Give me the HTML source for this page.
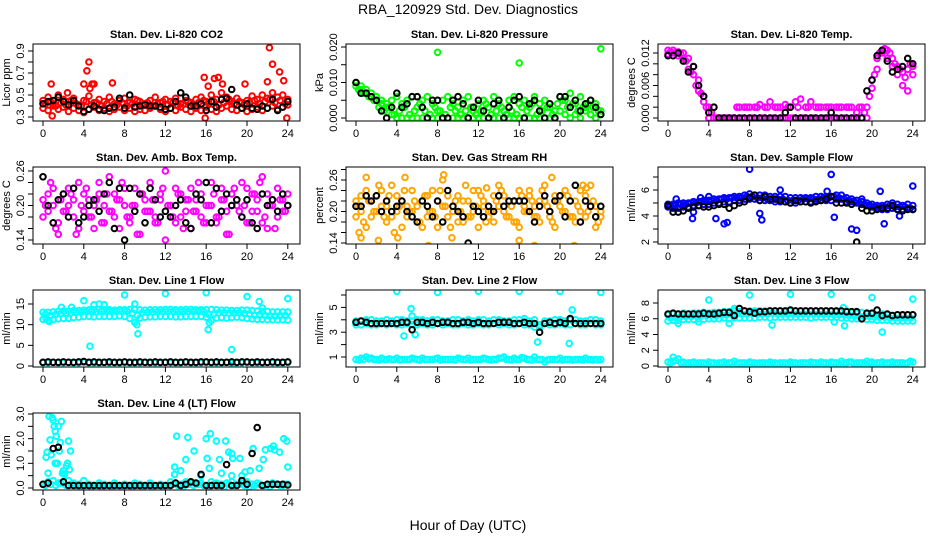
<!DOCTYPE html>
<html><head><meta charset="utf-8">
<style>
html,body{margin:0;padding:0;background:#fff;}
svg{display:block;font-family:"Liberation Sans",Arial,sans-serif;}
</style></head>
<body>
<svg id="chart" width="936" height="540" viewBox="0 0 936 540" xmlns="http://www.w3.org/2000/svg">
<text x="468" y="14" text-anchor="middle" font-size="14">RBA_120929  Std. Dev. Diagnostics</text>
<text x="468" y="530" text-anchor="middle" font-size="14">Hour of Day (UTC)</text>
</svg>
<script>
// shared times (hours)
const T=[0,0.5,1,1.5,2,2.5,3,3.5,4,4.5,5,5.5,6,6.5,7,7.5,8,8.5,9,9.5,10,10.5,11,11.5,12,12.5,13,13.5,14,14.5,15,15.5,16,16.5,17,17.5,18,18.5,19,19.5,20,20.5,21,21.5,22,22.5,23,23.5,24];
const TQ=[0.25,0.75,1.25,1.75,2.25,2.75,3.25,3.75,4.25,4.75,5.25,5.75,6.25,6.75,7.25,7.75,8.25,8.75,9.25,9.75,10.25,10.75,11.25,11.75,12.25,12.75,13.25,13.75,14.25,14.75,15.25,15.75,16.25,16.75,17.25,17.75,18.25,18.75,19.25,19.75,20.25,20.75,21.25,21.75,22.25,22.75,23.25,23.75];
const xTicks=[0,4,8,12,16,20,24];
const xTickLabels=["0","4","8","12","16","20","24"];

// CO2
const co2A=[0.45,0.48,0.42,0.50,0.46,0.44,0.47,0.41,0.45,0.49,0.43,0.46,0.44,0.48,0.42,0.45,0.47,0.43,0.46,0.44,0.42,0.45,0.48,0.43,0.46,0.44,0.47,0.42,0.45,0.43,0.46,0.48,0.44,0.50,0.46,0.52,0.48,0.44,0.47,0.43,0.45,0.49,0.46,0.50,0.47,0.52,0.48,0.50,0.46];
const co2B=[0.38,0.36,0.40,0.37,0.39,0.35,0.38,0.36,0.34,0.37,0.39,0.36,0.38,0.35,0.37,0.39,0.36,0.38,0.35,0.37,0.36,0.38,0.40,0.37,0.35,0.38,0.36,0.39,0.37,0.35,0.38,0.36,0.39,0.37,0.35,0.38,0.40,0.37,0.36,0.38,0.35,0.37,0.39,0.36,0.38,0.40,0.37,0.39,0.41];
const co2C=[0.42,0.44,0.40,0.43,0.41,0.45,0.42,0.40,0.44,0.41,0.43,0.40,0.42,0.44,0.41,0.43,0.40,0.42,0.45,0.41,0.43,0.40,0.42,0.44,0.41,0.43,0.40,0.42,0.44,0.41,0.43,0.45,0.42,0.44,0.41,0.43,0.46,0.42,0.44,0.41,0.43,0.45,0.42,0.44,0.46,0.43,0.45,0.42];
const co2OutT=[0.8,0.9,4,4.3,4.5,4.8,5,6.8,15.8,15.9,16.2,16.8,17.2,17.6,19.8,22,22.2,22.5,23.2,23.6,23.9,2.4,4.6];
const co2OutV=[0.60,0.31,0.60,0.72,0.80,0.60,0.60,0.61,0.66,0.29,0.58,0.65,0.66,0.60,0.60,0.62,0.93,0.78,0.71,0.63,0.29,0.52,0.56];
const co2K=[0.42,0.44,0.45,0.48,0.44,0.41,0.45,0.40,0.35,0.37,0.40,0.37,0.36,0.38,0.39,0.47,0.38,0.50,0.39,0.40,0.41,0.40,0.40,0.39,0.37,0.38,0.44,0.52,0.48,0.40,0.40,0.42,0.36,0.44,0.39,0.46,0.47,0.55,0.41,0.38,0.42,0.38,0.37,0.40,0.38,0.46,0.36,0.39,0.44];

// Pressure
const prA=[0.010,0.009,0.008,0.007,0.006,0.004,0.003,0.001,0.000,0.000,0.000,0.000,0.000,0.000,0.000,0.000,0.000,0.000,0.000,0.000,0.000,0.000,0.000,0.000,0.000,0.000,0.000,0.000,0.000,0.000,0.000,0.000,0.000,0.000,0.000,0.000,0.000,0.000,0.000,0.000,0.002,0.001,0.000,0.001,0.000,0.002,0.001,0.000,0.001];
const prB=[0.009,0.008,0.007,0.006,0.005,0.005,0.004,0.005,0.006,0.004,0.005,0.006,0.003,0.005,0.006,0.004,0.002,0.005,0.006,0.004,0.003,0.005,0.006,0.002,0.004,0.005,0.003,0.006,0.004,0.002,0.005,0.006,0.004,0.005,0.003,0.006,0.004,0.005,0.003,0.002,0.006,0.005,0.007,0.004,0.006,0.003,0.005,0.004,0.002];
const prC=[0.008,0.007,0.006,0.005,0.003,0.002,0.003,0.001,0.002,0.003,0.001,0.002,0.004,0.002,0.001,0.003,0.002,0.001,0.003,0.002,0.001,0.002,0.003,0.001,0.002,0.004,0.001,0.002,0.003,0.001,0.002,0.001,0.003,0.002,0.004,0.001,0.002,0.003,0.001,0.004,0.005,0.003,0.004,0.002,0.003,0.004,0.003,0.002];
const prOutT=[8,16,24];
const prOutV=[0.0185,0.0155,0.0195];
const prK=[0.010,0.007,0.007,0.006,0.005,0.002,0.000,0.003,0.007,0.003,0.004,0.006,0.006,0.003,0.000,0.005,0.005,0.000,0.000,0.005,0.006,0.004,0.000,0.003,0.005,0.002,0.000,0.004,0.005,0.000,0.003,0.005,0.006,0.000,0.004,0.005,0.002,0.000,0.004,0.000,0.006,0.006,0.003,0.005,0.002,0.004,0.005,0.003,0.001];

// Li-820 Temp
const tmA=[0.0125,0.0125,0.0122,0.012,0.011,0.0095,0.007,0.004,0.000,0,0,0,0,0,0,0,0,0,0,0,0,0,0,0,0,0,0,0,0,0,0,0,0,0,0,0,0,0,0,0,0.007,0.011,0.0125,0.0125,0.011,0.0095,0.0085,0.009,0.0095];
const tmB=[0.0118,0.012,0.0115,0.011,0.009,0.008,0.005,0.003,0.002,0.002,0.000,0.000,0.000,0.000,0.002,0.002,0.002,0.002,0.0025,0.002,0.003,0.002,0.002,0.0025,0.002,0.003,0.0035,0.002,0.003,0.002,0.002,0.002,0.002,0.002,0.002,0.002,0.002,0.001,0.002,0.002,0.0055,0.009,0.012,0.011,0.0095,0.008,0.006,0.005,0.008];
const tmC=[0.0122,0.012,0.0118,0.0105,0.0085,0.006,0.0045,0.002,0.001,0.000,0.000,0.000,0.000,0.002,0.000,0.002,0.000,0.002,0.000,0.002,0.000,0.002,0.000,0.002,0.000,0.002,0.000,0.002,0.000,0.002,0.000,0.002,0.000,0.002,0.000,0.002,0.000,0.002,0.001,0.004,0.008,0.012,0.0128,0.012,0.010,0.009,0.0075,0.010];
const tmK=[0.0115,0.0115,0.012,0.0105,0.0085,0.0095,0.006,0.004,0.001,0.002,0,0,0,0,0,0,0,0,0,0,0,0,0,0.001,0.002,0,0,0,0,0,0,0,0.001,0,0,0,0,0,0,0.005,0.007,0.0115,0.0125,0.0105,0.0085,0.009,0.0095,0.011,0.010];

// Amb box temp
const abA=[0.21,0.19,0.23,0.17,0.22,0.20,0.18,0.24,0.19,0.21,0.16,0.22,0.20,0.25,0.18,0.21,0.23,0.17,0.20,0.22,0.19,0.24,0.18,0.21,0.26,0.20,0.17,0.22,0.19,0.23,0.21,0.18,0.20,0.24,0.17,0.21,0.19,0.22,0.20,0.18,0.23,0.19,0.21,0.17,0.22,0.20,0.18,0.21,0.20];
const abB=[0.18,0.22,0.20,0.15,0.19,0.23,0.21,0.16,0.22,0.18,0.20,0.24,0.17,0.19,0.22,0.16,0.20,0.18,0.23,0.15,0.21,0.19,0.17,0.22,0.14,0.20,0.23,0.18,0.21,0.16,0.19,0.22,0.17,0.20,0.18,0.23,0.15,0.20,0.21,0.24,0.17,0.22,0.19,0.25,0.16,0.21,0.23,0.19,0.22];
const abC=[0.20,0.24,0.16,0.21,0.19,0.22,0.15,0.20,0.23,0.18,0.21,0.17,0.22,0.19,0.21,0.24,0.18,0.20,0.15,0.22,0.19,0.21,0.17,0.23,0.20,0.18,0.22,0.16,0.21,0.19,0.24,0.17,0.20,0.22,0.18,0.21,0.15,0.23,0.19,0.20,0.17,0.22,0.24,0.18,0.20,0.16,0.21,0.19];
const abK=[0.25,0.20,0.17,0.21,0.22,0.18,0.23,0.17,0.18,0.20,0.21,0.19,0.22,0.24,0.16,0.23,0.14,0.23,0.19,0.22,0.17,0.23,0.21,0.18,0.19,0.18,0.20,0.21,0.17,0.16,0.22,0.21,0.24,0.17,0.23,0.19,0.22,0.20,0.21,0.18,0.21,0.17,0.16,0.22,0.20,0.21,0.19,0.22,0.20];

// Gas stream RH
const rhA=[0.22,0.20,0.24,0.19,0.23,0.21,0.18,0.25,0.20,0.22,0.19,0.24,0.21,0.17,0.23,0.20,0.22,0.26,0.19,0.21,0.23,0.18,0.22,0.20,0.24,0.21,0.19,0.23,0.25,0.20,0.22,0.18,0.24,0.21,0.23,0.19,0.22,0.25,0.20,0.23,0.21,0.24,0.19,0.22,0.20,0.23,0.25,0.21,0.19];
const rhB=[0.19,0.23,0.17,0.22,0.20,0.24,0.21,0.19,0.23,0.17,0.21,0.20,0.18,0.22,0.19,0.24,0.17,0.21,0.23,0.20,0.18,0.22,0.19,0.24,0.17,0.22,0.20,0.18,0.21,0.23,0.19,0.22,0.17,0.20,0.24,0.21,0.18,0.22,0.19,0.17,0.23,0.20,0.22,0.18,0.24,0.19,0.21,0.17,0.20];
const rhC=[0.21,0.18,0.22,0.20,0.25,0.19,0.23,0.16,0.21,0.24,0.20,0.22,0.18,0.23,0.20,0.19,0.24,0.21,0.17,0.22,0.20,0.25,0.19,0.21,0.23,0.18,0.20,0.22,0.24,0.19,0.21,0.18,0.23,0.20,0.22,0.19,0.24,0.21,0.18,0.22,0.20,0.23,0.19,0.21,0.25,0.20,0.22,0.18];
const rhOutT=[0.3,0.5,1,2.2,4.1,7.1,9.4,8.6,16,17.5,21.4,22.6,4.8,12.8,19.2];
const rhOutV=[0.16,0.15,0.265,0.145,0.15,0.135,0.15,0.27,0.145,0.135,0.135,0.245,0.265,0.245,0.265];
const rhK=[0.21,0.21,0.23,0.22,0.23,0.20,0.22,0.20,0.21,0.22,0.20,0.19,0.18,0.22,0.21,0.19,0.22,0.18,0.24,0.21,0.20,0.19,0.14,0.21,0.20,0.19,0.21,0.20,0.23,0.21,0.22,0.22,0.22,0.22,0.20,0.18,0.21,0.23,0.20,0.22,0.23,0.19,0.22,0.25,0.18,0.22,0.21,0.19,0.21];

// Sample flow
const sfA=[4.9,4.9,5.0,5.0,5.0,5.1,5.1,5.2,5.2,5.3,5.3,5.4,5.4,5.5,5.5,5.6,5.7,5.6,5.6,5.6,5.5,5.5,5.5,5.5,5.4,5.4,5.4,5.4,5.4,5.5,5.5,5.5,5.5,5.6,5.6,5.4,5.3,5.2,5.1,5.0,4.9,4.8,4.8,4.9,5.0,4.9,4.8,4.9,4.8];
const sfB=[4.7,4.6,4.6,4.7,4.7,4.8,4.8,4.9,4.9,5.0,5.0,5.1,5.1,5.2,5.2,5.3,5.3,5.3,5.2,5.2,5.2,5.1,5.1,5.1,5.0,5.0,5.1,5.1,5.1,5.2,5.2,5.2,5.2,5.3,5.3,5.1,5.1,5.0,4.9,4.8,4.7,4.6,4.5,4.5,4.6,4.5,4.5,4.6,4.5];
const sfC=[4.8,4.8,4.9,4.9,5.0,5.0,5.1,5.1,5.2,5.2,5.3,5.3,5.4,5.4,5.4,5.5,5.5,5.4,5.4,5.3,5.3,5.3,5.3,5.2,5.2,5.2,5.3,5.3,5.3,5.3,5.4,5.4,5.5,5.4,5.3,5.2,5.1,5.0,4.9,4.8,4.7,4.7,4.7,4.8,4.7,4.7,4.7,4.6];
const sfOutT=[2.4,2.5,4.7,5.5,5.8,8,9,9.2,11,16,16.3,18,18.5,20.8,21.2,22.7,24,4,15.6,19,0.8,3.2];
const sfOutV=[3.8,4.3,3.8,3.4,3.5,7.6,4.2,3.7,6.0,7.2,3.9,3.0,2.9,5.9,3.4,4.0,6.3,5.5,5.9,5.3,5.3,5.4];
const sfK=[4.8,4.3,4.3,4.4,4.6,4.7,4.8,4.7,4.7,4.8,4.9,4.9,4.6,4.8,5.0,5.1,5.4,5.6,5.2,5.5,5.3,5.3,5.2,5.1,5.0,5.2,5.1,5.1,5.0,5.1,5.2,5.3,5.5,5.0,5.0,5.0,4.9,2.0,4.6,4.4,4.4,4.5,4.6,4.6,4.8,4.5,4.4,4.5,4.5];

// Line 1
const l1A=[13.0,13.0,13.1,13.2,13.3,13.3,13.4,13.4,13.5,13.6,13.6,13.7,13.6,13.6,13.5,13.6,13.6,13.7,13.7,13.6,13.5,13.6,13.6,13.6,13.7,13.7,13.6,13.6,13.7,13.7,13.6,13.6,13.6,13.7,13.6,13.5,13.5,13.4,13.4,13.5,13.5,13.4,13.3,13.2,13.2,13.1,13.1,13.1,13.1];
const l1B=[11.3,11.0,11.2,11.4,11.5,11.5,11.7,11.8,12.0,12.0,11.9,12.0,12.0,12.0,12.0,12.1,12.0,11.5,10.5,11.6,11.8,11.9,11.9,12.0,12.0,12.0,11.9,11.9,12.0,12.0,12.0,12.0,11.8,11.0,11.6,11.7,11.6,11.7,11.8,11.7,11.5,11.4,11.3,11.3,11.2,11.2,11.2,11.2,11.1];
const l1C=[12.5,12.2,12.5,12.7,12.8,12.9,13.0,13.1,13.2,13.2,13.1,13.3,13.3,13.2,13.3,13.2,13.3,12.8,12.2,12.9,13.0,13.1,13.2,13.2,13.3,13.2,13.2,13.3,13.2,13.3,13.3,13.2,12.5,12.6,12.9,12.9,12.8,12.8,12.9,12.7,12.6,12.3,12.4,12.2,12.1,12.1,12.2,12.2];
const l1Low=[0.8,0.8,0.9,0.8,0.8,0.9,0.8,0.8,0.9,0.8,0.8,0.8,0.9,0.8,0.8,0.8,0.9,0.8,0.8,0.8,0.9,0.8,0.8,0.8,0.9,0.8,0.8,0.8,0.9,0.8,0.8,0.8,0.9,0.8,0.8,0.8,0.9,0.8,0.8,0.8,0.9,0.8,0.8,0.8,0.9,0.8,0.8,0.8,0.9];
const l1OutT=[1.8,2.8,4,4.6,5,5.5,6,8,9,9.3,9.2,12,16,16.2,16.3,18.5,18.6,20,21.2,21.5,24,0.3,0.6];
const l1OutV=[14.2,14.2,15.8,4.8,14.8,15,14.8,17.2,15,7.8,10,17.5,17.7,8.8,10.5,4.0,0.2,16.8,15.6,14,16.3,11.5,10.8];
const l1K=[0.9,1.0,0.9,0.9,1.0,0.9,0.9,1.0,1.1,0.9,1.0,0.9,0.9,1.0,0.9,0.9,1.0,0.9,0.9,1.0,0.9,0.9,1.0,0.9,0.9,1.0,0.9,0.9,1.0,0.9,0.9,1.0,1.0,0.9,1.0,0.9,0.9,1.0,0.9,1.0,1.0,0.9,1.0,0.9,0.9,1.0,0.9,0.9,1.0];

// Line 2
const l2A=[3.9,3.9,4.0,4.0,3.9,3.9,4.0,3.9,4.0,4.0,3.9,3.9,4.0,4.0,3.9,4.0,4.0,3.9,3.9,4.0,4.0,3.9,4.0,3.9,4.0,4.0,3.9,4.0,4.0,3.9,3.9,4.0,4.0,4.1,3.9,4.0,3.6,3.9,3.9,4.0,4.0,3.9,4.0,4.0,3.9,3.9,4.0,4.0,3.9];
const l2B=[3.6,3.6,3.7,3.6,3.6,3.7,3.6,3.7,3.6,3.6,3.7,3.6,3.6,3.7,3.6,3.6,3.7,3.6,3.7,3.6,3.6,3.7,3.6,3.6,3.7,3.6,3.6,3.7,3.6,3.7,3.6,3.6,3.7,3.6,3.6,3.4,3.6,3.7,3.6,3.6,3.7,3.6,3.6,3.7,3.6,3.6,3.7,3.6,3.6];
const l2Low=[0.8,0.9,1.0,0.9,0.8,0.9,0.8,0.8,0.9,0.8,0.8,0.9,0.8,0.9,0.8,0.8,0.9,0.8,0.8,0.8,0.9,0.8,0.9,0.8,0.8,0.9,0.8,0.8,0.9,1.0,0.8,0.9,0.8,0.9,0.8,1.0,0.8,0.6,0.8,0.8,0.9,0.8,0.8,0.8,0.8,0.9,0.8,0.8,0.8];
const l2Low2=[0.75,0.8,0.85,0.8,0.75,0.8,0.85,0.8,0.75,0.8,0.8,0.85,0.75,0.8,0.8,0.85,0.75,0.8,0.8,0.75,0.85,0.8,0.75,0.8,0.8,0.85,0.75,0.8,0.9,0.8,0.75,0.8,0.95,0.8,0.75,0.8,0.8,0.75,0.8,0.8,0.75,0.8,0.75,0.8,0.75,0.8,0.75,0.75];
const l2OutT=[4,8,12,16,20,24,4.7,5.4,5.8,17.8,18,20.9,21.2,5.5];
const l2OutV=[6.3,6.2,6.3,6.3,6.3,6.2,2.7,4.9,2.8,2.2,3.4,2.1,4.8,4.3];
const l2K=[3.8,3.9,3.8,3.7,3.7,3.7,3.7,3.7,3.7,3.8,3.8,3.2,3.8,3.8,3.7,3.8,3.7,3.8,3.8,3.7,3.7,3.8,3.8,3.7,3.8,3.7,3.7,3.7,3.8,3.8,3.8,3.7,3.7,3.8,3.7,3.7,3.0,3.7,3.8,3.7,3.8,3.7,4.1,3.7,3.7,3.7,3.7,3.7,3.7];

// Line 3
const l3A=[6.5,6.6,6.6,6.7,6.6,6.7,6.7,6.8,6.7,6.8,6.8,6.9,6.9,7.0,6.9,7.0,7.0,7.0,7.0,7.0,7.0,7.0,7.0,6.9,7.0,7.0,7.0,7.0,7.0,7.0,7.0,7.0,7.0,6.9,6.9,7.0,6.8,6.7,6.8,6.6,6.6,6.5,6.6,6.5,6.4,6.5,6.4,6.5,6.5];
const l3B=[5.7,5.8,5.8,5.9,5.9,5.9,6.0,5.9,6.0,6.0,6.0,6.1,6.0,6.1,6.1,6.1,6.1,6.1,6.2,6.2,6.1,6.2,6.2,6.2,6.2,6.2,6.2,6.2,6.1,6.2,6.2,6.2,6.2,6.2,6.1,6.1,6.0,6.0,6.0,5.9,5.9,5.8,5.8,5.8,5.7,5.7,5.7,5.7,5.7];
const l3C=[6.1,6.2,6.3,6.3,6.3,6.4,6.4,6.4,6.5,6.4,6.5,6.5,6.6,6.6,6.6,6.6,6.7,6.6,6.6,6.6,6.7,6.6,6.6,6.6,6.6,6.6,6.6,6.6,6.6,6.6,6.6,6.6,6.5,6.5,6.5,6.4,6.4,6.3,6.3,6.3,6.2,6.2,6.2,6.1,6.1,6.1,6.1,6.1];
const l3Low=[0.5,0.6,0.9,0.5,0.4,0.5,0.4,0.4,0.5,0.4,0.4,0.5,0.4,0.6,0.4,0.4,0.5,0.4,0.4,0.4,0.5,0.4,0.4,0.4,0.5,0.4,0.4,0.4,0.5,0.4,0.5,0.4,0.5,0.4,0.6,0.4,0.5,0.4,0.4,0.6,0.5,0.4,0.5,0.4,0.5,0.4,0.4,0.4,0.5];
const l3Low2=[0.4,0.7,0.4,0.3,0.4,0.3,0.4,0.3,0.4,0.3,0.4,0.3,0.4,0.3,0.4,0.3,0.4,0.3,0.4,0.3,0.4,0.3,0.4,0.3,0.4,0.3,0.4,0.3,0.4,0.3,0.4,0.3,0.4,0.3,0.4,0.5,0.3,0.4,0.3,0.4,0.3,0.4,0.3,0.4,0.3,0.4,0.3,0.6];
const l3OutT=[4,8,12,16,20,24,1,3,6,6.5,10.2,16.3,17.2,17.3,21,0.5];
const l3OutV=[8.4,9.0,9.1,9.1,8.7,8.5,5.4,5.6,5.4,7.3,5.2,5.6,7.4,5.1,4.3,1.1];
const l3K=[6.6,6.7,6.6,6.6,6.6,6.6,6.6,6.7,6.6,6.6,6.7,6.8,6.8,6.4,7.3,7.0,6.9,6.7,6.9,6.9,7.0,7.0,7.0,7.0,7.1,7.0,7.0,7.0,7.0,7.0,7.0,7.0,7.0,7.0,7.0,6.9,6.9,6.9,6.0,6.7,6.7,7.1,6.4,6.6,6.4,6.5,6.5,6.5,6.5];

// Line 4
const l4A=[0.15,0.25,0.30,0.20,0.25,0.30,0.20,0.15,0.30,0.15,0.10,0.20,0.15,0.10,0.20,0.10,0.15,0.10,0.20,0.15,0.10,0.20,0.10,0.15,0.10,0.25,0.20,0.15,0.25,0.20,0.15,0.20,0.10,0.25,0.20,0.15,0.20,0.25,0.15,0.20,0.25,0.15,0.20,0.10,0.15,0.20,0.15,0.10,0.15];
const l4B=[0.10,0.15,0.10,0.20,0.10,0.15,0.10,0.05,0.10,0.05,0.10,0.05,0.10,0.05,0.10,0.05,0.10,0.05,0.10,0.05,0.10,0.05,0.10,0.05,0.10,0.15,0.10,0.05,0.15,0.10,0.15,0.10,0.05,0.15,0.10,0.05,0.15,0.10,0.15,0.10,0.05,0.10,0.15,0.10,0.05,0.15,0.10,0.15];
const l4OutT=[0.3,0.4,0.5,0.6,0.8,0.9,1.0,1.1,1.2,1.3,1.4,1.5,1.6,1.7,1.8,1.9,2.0,2.3,2.4,2.5,2.7,2.6,2.1,0.7,1.2,12.9,12.9,13.1,13.5,14,14.2,14.8,15.5,16,16.1,16.4,16.3,17,17.3,17.5,17.9,18.2,18.5,18.6,18.5,19.3,19.5,19.8,20.3,20.6,21.2,21.6,21.8,22.3,22.7,22.6,23.2,23.6,23.9,24];
const l4OutV=[1.25,1.45,0.6,2.9,1.35,2.85,2.75,2.5,2.3,2.1,1.0,2.5,1.5,1.85,2.7,0.6,0.7,0.9,1.0,1.9,1.5,0.75,0.55,1.95,1.0,0.85,0.55,2.1,0.7,1.15,2.05,1.5,0.5,2.0,1.2,2.2,0.8,1.9,1.15,0.6,1.9,1.45,1.4,1.2,0.5,1.2,0.5,0.65,0.7,1.6,0.8,1.15,1.55,1.6,1.55,1.7,1.45,2.0,1.9,0.85];
const l4K=[0.15,0.2,1.6,1.65,0.25,0.1,0.1,0.1,0.1,0.1,0.1,0.1,0.1,0.1,0.1,0.1,0.1,0.1,0.1,0.1,0.1,0.1,0.1,0.1,0.1,0.1,0.2,0.1,0.15,0.25,0.2,0.55,0.1,0.1,0.1,0.1,0.95,0.1,0.1,0.3,0.15,1.4,2.45,0.1,0.15,0.15,0.15,0.15,0.12];

const RED="#ff0000",GRN="#00ff00",MAG="#ff00ff",BLU="#0000ff",CYN="#00ffff",ORG="#ffa500",BLK="#000000";
const panels=[
 {id:"co2",title:"Stan. Dev. Li-820 CO2",ylab:"Licor ppm",c:0,r:0,v0:0.3,p0:117,v1:0.9,p1:51,ticks:[0.3,0.4,0.5,0.6,0.7,0.8,0.9],labs:[[0.3,"0.3"],[0.5,"0.5"],[0.7,"0.7"],[0.9,"0.9"]],
  series:[[T,co2A,RED],[T,co2B,RED],[TQ,co2C,RED],[co2OutT,co2OutV,RED],[T,co2K,BLK]]},
 {id:"pressure",title:"Stan. Dev. Li-820 Pressure",ylab:"kPa",c:1,r:0,v0:0,p0:118,v1:0.02,p1:47,ticks:[0,0.005,0.01,0.015,0.02],labs:[[0,"0.000"],[0.01,"0.010"],[0.02,"0.020"]],
  series:[[T,prA,GRN],[T,prB,GRN],[TQ,prC,GRN],[prOutT,prOutV,GRN],[T,prK,BLK]]},
 {id:"temp",title:"Stan. Dev. Li-820 Temp.",ylab:"degrees C",c:2,r:0,v0:0,p0:118,v1:0.012,p1:53,ticks:[0,0.002,0.004,0.006,0.008,0.01,0.012],labs:[[0,"0.000"],[0.006,"0.006"],[0.012,"0.012"]],
  series:[[T,tmA,MAG],[T,tmB,MAG],[TQ,tmC,MAG],[T,tmK,BLK]]},
 {id:"ambtemp",title:"Stan. Dev. Amb. Box Temp.",ylab:"degrees C",c:0,r:1,v0:0.14,p0:240,v1:0.26,p1:171,ticks:[0.14,0.16,0.18,0.2,0.22,0.24,0.26],labs:[[0.14,"0.14"],[0.2,"0.20"],[0.26,"0.26"]],
  series:[[T,abA,MAG],[T,abB,MAG],[TQ,abC,MAG],[T,abK,BLK]]},
 {id:"gasrh",title:"Stan. Dev. Gas Stream RH",ylab:"percent",c:1,r:1,v0:0.14,p0:243,v1:0.26,p1:180,ticks:[0.14,0.16,0.18,0.2,0.22,0.24,0.26,0.28],labs:[[0.14,"0.14"],[0.2,"0.20"],[0.26,"0.26"]],
  series:[[T,rhA,ORG],[T,rhB,ORG],[TQ,rhC,ORG],[rhOutT,rhOutV,ORG],[T,rhK,BLK]]},
 {id:"sampleflow",title:"Stan. Dev. Sample Flow",ylab:"ml/min",c:2,r:1,v0:2,p0:242,v1:6,p1:190,ticks:[2,3,4,5,6,7],labs:[[2,"2"],[4,"4"],[6,"6"]],
  series:[[T,sfA,BLU],[T,sfB,BLU],[TQ,sfC,BLU],[sfOutT,sfOutV,BLU],[T,sfK,BLK]]},
 {id:"line1",title:"Stan. Dev. Line 1 Flow",ylab:"ml/min",c:0,r:2,v0:0,p0:366,v1:15,p1:304,ticks:[0,5,10,15],labs:[[0,"0"],[5,"5"],[10,"10"],[15,"15"]],
  series:[[T,l1A,CYN],[T,l1B,CYN],[TQ,l1C,CYN],[T,l1Low,CYN],[l1OutT,l1OutV,CYN],[T,l1K,BLK]]},
 {id:"line2",title:"Stan. Dev. Line 2 Flow",ylab:"ml/min",c:1,r:2,v0:1,p0:357,v1:6,p1:295,ticks:[1,2,3,4,5,6],labs:[[1,"1"],[3,"3"],[5,"5"]],
  series:[[T,l2A,CYN],[T,l2B,CYN],[T,l2Low,CYN],[TQ,l2Low2,CYN],[l2OutT,l2OutV,CYN],[T,l2K,BLK]]},
 {id:"line3",title:"Stan. Dev. Line 3 Flow",ylab:"ml/min",c:2,r:2,v0:0,p0:366,v1:8,p1:303,ticks:[0,2,4,6,8],labs:[[0,"0"],[2,"2"],[4,"4"],[6,"6"],[8,"8"]],
  series:[[T,l3A,CYN],[T,l3B,CYN],[TQ,l3C,CYN],[T,l3Low,CYN],[TQ,l3Low2,CYN],[l3OutT,l3OutV,CYN],[T,l3K,BLK]]},
 {id:"line4",title:"Stan. Dev. Line 4 (LT) Flow",ylab:"ml/min",c:0,r:3,v0:0,p0:488,v1:3,p1:414,ticks:[0,0.5,1,1.5,2,2.5,3],labs:[[0,"0.0"],[1,"1.0"],[2,"2.0"],[3,"3.0"]],
  series:[[T,l4A,CYN],[TQ,l4B,CYN],[l4OutT,l4OutV,CYN],[T,l4K,BLK]]}
];
const colLeft=[33,346,658], rowTop=[44,167,290,413], W=267, H=77;
const svg=document.getElementById('chart');
const NS="http://www.w3.org/2000/svg";
function mk(tag,attrs,parent){const e=document.createElementNS(NS,tag);for(const k in attrs)e.setAttribute(k,attrs[k]);parent.appendChild(e);return e;}
panels.forEach(p=>{
  const L=colLeft[p.c], Tp=rowTop[p.r];
  const xs=h=>L+10+h*10.2;
  const ys=v=>p.p0+(v-p.v0)*(p.p1-p.p0)/(p.v1-p.v0);
  const g=mk('g',{},svg);
  
  
  const t=mk('text',{x:L+W/2,y:Tp-6,'text-anchor':'middle','font-size':11,'font-weight':'bold'},g);
  
  
  t.textContent=p.title;
  const clip=mk('clipPath',{id:'cl'+p.id},g);
  mk('rect',{x:L,y:Tp,width:W,height:H},clip);
  const pts=mk('g',{'clip-path':'url(#cl'+p.id+')',fill:'none','stroke-width':2},g);
  
  
  p.series.forEach(s=>{
    const tx=s[0],vy=s[1],col=s[2];
    for(let i=0;i<vy.length&&i<tx.length;i++){
      const c=mk('circle',{cx:xs(tx[i]).toFixed(1),cy:ys(vy[i]).toFixed(1),r:2.8,stroke:col},pts);
      
      
    }
  });
  const box=mk('rect',{x:L,y:Tp,width:W,height:H,fill:'none',stroke:'#000','stroke-width':1},g);
  
  
  const ax=mk('g',{stroke:'#000','stroke-width':1},g);
  
  
  mk('line',{x1:xs(0),x2:xs(24),y1:Tp+H,y2:Tp+H},ax);
  xTicks.forEach((h,i)=>{
    mk('line',{x1:xs(h),x2:xs(h),y1:Tp+H,y2:Tp+H+5},ax);
    const tl=mk('text',{x:xs(h),y:Tp+H+16,'text-anchor':'middle','font-size':11,stroke:'none'},g);
    
    
    tl.textContent=xTickLabels[i];
  });
  const ay=mk('g',{stroke:'#000','stroke-width':1},g);
  
  
  p.ticks.forEach(v=>{mk('line',{x1:L-5,x2:L,y1:ys(v),y2:ys(v)},ay);});
  p.labs.forEach(([v,s])=>{
    const yy=ys(v);
    const tl=mk('text',{x:L-9,y:yy,'text-anchor':'middle','font-size':11,transform:`rotate(-90 ${L-9} ${yy})`},g);
    
    
    tl.textContent=s;
  });
  const yl=mk('text',{x:L-23,y:Tp+H/2,'text-anchor':'middle','font-size':11,transform:`rotate(-90 ${L-23} ${Tp+H/2})`},g);
  
  
  yl.textContent=p.ylab;
});
</script>
</body></html>
